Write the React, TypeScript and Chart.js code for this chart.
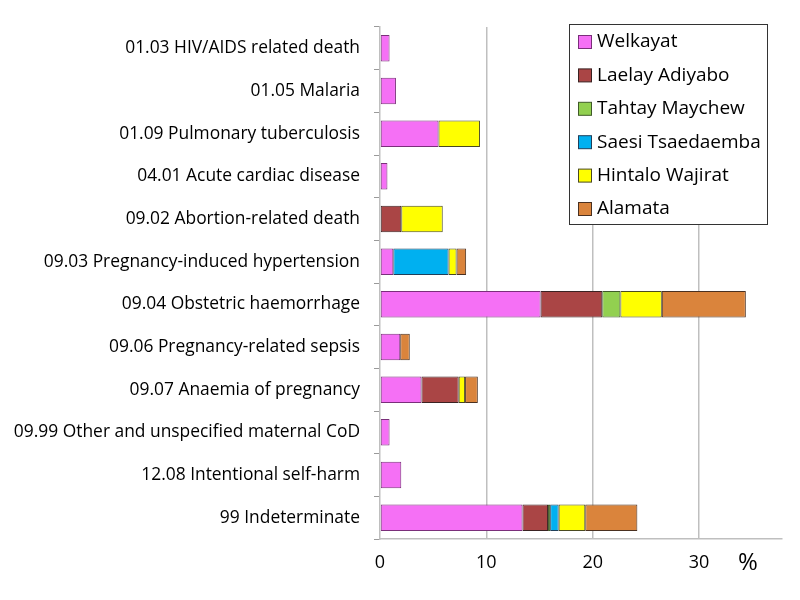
import React, { useEffect, useRef } from "react";
import { Chart, registerables } from "chart.js";

Chart.register(...registerables);

const categories = [
  "01.03 HIV/AIDS related death",
  "01.05 Malaria",
  "01.09 Pulmonary tuberculosis",
  "04.01 Acute cardiac disease",
  "09.02 Abortion-related death",
  "09.03 Pregnancy-induced hypertension",
  "09.04 Obstetric haemorrhage",
  "09.06 Pregnancy-related sepsis",
  "09.07 Anaemia of pregnancy",
  "09.99 Other and unspecified maternal CoD",
  "12.08 Intentional self-harm",
  "99 Indeterminate",
];

const seriesNames = [
  "Welkayat",
  "Laelay Adiyabo",
  "Tahtay Maychew",
  "Saesi Tsaedaemba",
  "Hintalo Wajirat",
  "Alamata",
];

const welkayat = [0.9, 1.5, 5.5, 0.7, null, 1.25, 15.1, 1.9, 3.9, 0.9, 2.0, 13.4];
const laelayAdiyabo = [null, null, null, null, 2.0, null, 5.8, null, 3.5, null, null, 2.4];
const tahtayMaychew = [null, null, null, null, null, null, 1.7, null, null, null, null, 0.2];
const saesiTsaedaemba = [null, null, null, null, null, 5.2, null, null, null, null, null, 0.8];
const hintaloWajirat = [null, null, 3.9, null, 3.9, 0.75, 3.9, null, 0.6, null, null, 2.5];
const alamata = [null, null, null, null, null, 0.9, 7.9, 0.9, 1.2, null, null, 4.9];

const xTicks = [0, 10, 20, 30];
const xMax = 37.8;
const unitLabel = "%";

const fillColors = ["#F570F5", "#AA4545", "#92D050", "#00B0F0", "#FFFF00", "#DA843C"];
const borderColors = ["#7A2F7A", "#3A2222", "#3F5A28", "#1F3F5A", "#4A4A20", "#4A3020"];

const seriesValues = [welkayat, laelayAdiyabo, tahtayMaychew, saesiTsaedaemba, hintaloWajirat, alamata];

const FONT = "'Open Sans', sans-serif";

const overlayPlugin = {
  id: "overlay",
  afterDraw(chart: any) {
    const ctx = chart.ctx as CanvasRenderingContext2D;
    const area = chart.chartArea;
    ctx.save();
    // legend box
    const bx = area.right - 213;
    const by = area.top - 3;
    const bw = 198;
    const bh = 200;
    ctx.fillStyle = "#FFFFFF";
    ctx.fillRect(bx, by, bw, bh);
    ctx.strokeStyle = "#333333";
    ctx.lineWidth = 1;
    ctx.strokeRect(bx + 0.5, by + 0.5, bw, bh);
    ctx.font = `19px ${FONT}`;
    ctx.textBaseline = "middle";
    ctx.textAlign = "left";
    chart.data.datasets.forEach((ds: any, i: number) => {
      const cy = by + 18 + i * 33.4;
      ctx.fillStyle = ds.backgroundColor;
      ctx.fillRect(bx + 9.5, cy - 6.5, 13, 13);
      ctx.strokeStyle = ds.borderColor;
      ctx.strokeRect(bx + 9.5, cy - 6.5, 13, 13);
      ctx.fillStyle = "#000000";
      ctx.fillText(ds.label, bx + 28, cy);
    });
    // unit label
    ctx.font = `24px ${FONT}`;
    ctx.textAlign = "center";
    ctx.fillText(unitLabel, area.left + 368, area.bottom + 24);
    ctx.restore();
  },
};

export default function App() {
  const ref = useRef<HTMLCanvasElement | null>(null);
  useEffect(() => {
    document.body.style.margin = "0";
    const canvas = ref.current!;
    const chart = new Chart(canvas, {
      type: "bar",
      data: {
        labels: categories,
        datasets: seriesNames.map((name, i) => ({
          label: name,
          data: seriesValues[i] as any,
          backgroundColor: fillColors[i],
          borderColor: borderColors[i],
          borderWidth: 1,
          borderSkipped: false,
          categoryPercentage: 1,
          barPercentage: 0.62,
        })),
      },
      options: {
        indexAxis: "y",
        animation: false,
        responsive: false,
        maintainAspectRatio: false,
        layout: { padding: { top: 27, right: 18, left: 0, bottom: 0 } },
        plugins: {
          legend: { display: false },
          tooltip: { enabled: false },
        },
        scales: {
          x: {
            stacked: true,
            min: 0,
            max: xMax,
            afterBuildTicks: (scale: any) => {
              scale.ticks = xTicks.map((v) => ({ value: v }));
            },
            afterFit: (scale: any) => {
              scale.height = 61;
            },
            grid: {
              color: (c: any) => (c.tick && c.tick.value === 0 ? "rgba(0,0,0,0)" : "#BFBFBF"),
              lineWidth: 1.5,
              drawTicks: false,
            },
            border: { color: "#BFBFBF", width: 1.5 },
            ticks: {
              color: "#000000",
              font: { family: FONT, size: 18 },
              padding: 13,
            },
          },
          y: {
            stacked: true,
            afterFit: (scale: any) => {
              scale.width = 380;
            },
            grid: {
              drawOnChartArea: false,
              drawTicks: true,
              tickLength: 6,
              color: "#9A9A9A",
            },
            border: { color: "#BFBFBF", width: 1.5 },
            ticks: {
              color: "#000000",
              font: { family: FONT, size: 17.4 },
              padding: 14,
              autoSkip: false,
            },
          },
        },
      },
      plugins: [overlayPlugin],
    });
    return () => chart.destroy();
  }, []);
  return (
    <div style={{ width: 800, height: 600 }}>
      <canvas ref={ref} width={800} height={600} style={{ width: 800, height: 600, display: "block" }} />
    </div>
  );
}
